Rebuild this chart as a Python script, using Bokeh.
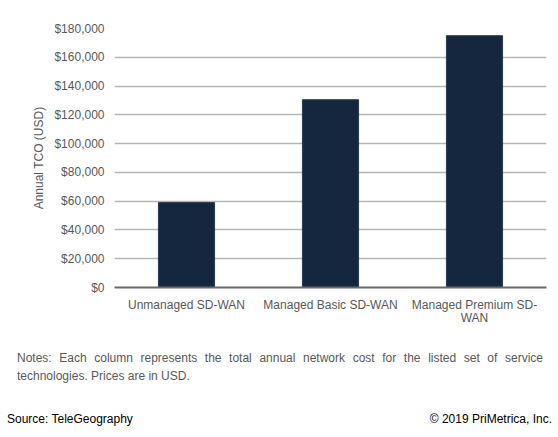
from bokeh.plotting import figure
from bokeh.models import (FixedTicker, NumeralTickFormatter, Range1d, LinearAxis, Div,
                          CustomJSTickFormatter)
from bokeh.layouts import column
from bokeh.embed import file_html
from bokeh.resources import INLINE

categories = ["Unmanaged SD-WAN", "Managed Basic SD-WAN", "Managed Premium SD-WAN"]
label_line1 = ["Unmanaged SD-WAN", "Managed Basic SD-WAN", "Managed Premium SD-"]
label_line2 = ["", "", "WAN"]
values = [59000, 130500, 175000]
y_ticks = [0, 20000, 40000, 60000, 80000, 100000, 120000, 140000, 160000, 180000]
y_label = "Annual TCO (USD)"
notes_line1 = "Notes: Each column represents the total annual network cost for the listed set of service"
notes_line2 = "technologies. Prices are in USD."
source_text = "Source: TeleGeography"
copyright_text = "\u00a9 2019 PriMetrica, Inc."

FONT = "Liberation Sans"
GRAY = "#595959"

xpos = list(range(len(categories)))

p = figure(width=552, height=340, output_backend="svg", x_axis_type=None,
           toolbar_location=None, min_border_left=114, min_border_right=6,
           min_border_top=28, min_border_bottom=53)
p.x_range = Range1d(-0.5, len(categories) - 0.5)
p.y_range = Range1d(0, 180000)
p.outline_line_color = None
p.background_fill_color = "white"

p.vbar(x=xpos, top=values, width=0.39, fill_color="#15273e",
       line_color="#2a3a50", line_width=1)

# y axis
p.yaxis.ticker = FixedTicker(ticks=y_ticks)
p.yaxis.formatter = NumeralTickFormatter(format="$0,0")
p.yaxis.axis_line_color = None
p.yaxis.major_tick_line_color = None
p.yaxis.minor_tick_line_color = None
p.yaxis.major_label_standoff = 4
p.yaxis.major_label_text_font = FONT
p.yaxis.major_label_text_font_size = "12px"
p.yaxis.major_label_text_color = GRAY
p.yaxis.axis_label = y_label
p.yaxis.axis_label_text_font = FONT
p.yaxis.axis_label_text_font_size = "12px"
p.yaxis.axis_label_text_font_style = "normal"
p.yaxis.axis_label_text_color = GRAY
p.yaxis.axis_label_standoff = 5

def make_axis(labels, standoff, line_color, line_width):
    fmt = CustomJSTickFormatter(args=dict(labels=labels),
                                code="const i = Math.round(tick); return (i >= 0 && i < labels.length) ? labels[i] : '';")
    ax = LinearAxis(ticker=FixedTicker(ticks=xpos), formatter=fmt,
                    axis_line_color=line_color, axis_line_width=line_width,
                    major_tick_line_color=None, minor_tick_line_color=None,
                    major_label_standoff=standoff, major_label_text_font=FONT,
                    major_label_text_font_size="12px", major_label_text_color=GRAY)
    p.add_layout(ax, "below")
    return ax

make_axis(label_line1, 4, "#6b6b6b", 2)
make_axis(label_line2, -10, None, 1)

p.xgrid.grid_line_color = None
p.ygrid.grid_line_color = "#b5b5b5"
p.ygrid.grid_line_width = 1.3

base = f"font-family:'{FONT}';font-size:12px;line-height:18px;color:{GRAY};"
notes = Div(
    text=(f"<div style=\"{base}text-align:justify;text-align-last:justify;width:526px\">{notes_line1}</div>"
          f"<div style=\"{base}\">{notes_line2}</div>"),
    width=526, margin=(9, 0, 0, 17))

footer = Div(
    text=(f"<div style=\"font-family:'{FONT}';font-size:12px;line-height:18px;color:#000;"
          f"display:flex;justify-content:space-between;width:545px\">"
          f"<span>{source_text}</span><span>{copyright_text}</span></div>"),
    width=545, margin=(25, 0, 0, 7))

layout = column(p, notes, footer, spacing=0)

open("out.html", "w").write(file_html(layout, INLINE))
